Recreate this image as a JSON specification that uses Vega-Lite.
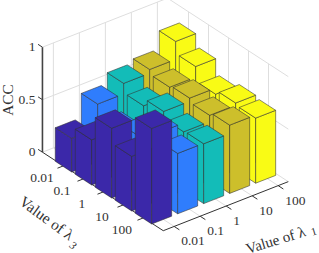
{
"$schema":"https://vega.github.io/schema/vega-lite/v6.json",
"width":319,"height":253,"padding":0,"autosize":"none","background":"white",
"config":{"view":{"stroke":null}},
"datasets":{
"bars":[
{"l1":"100","l3":"0.01","acc":0.855},{"l1":"100","l3":"0.1","acc":0.74},{"l1":"100","l3":"1","acc":0.60},{"l1":"100","l3":"10","acc":0.64},{"l1":"100","l3":"100","acc":0.62},
{"l1":"10","l3":"0.01","acc":0.685},{"l1":"10","l3":"0.1","acc":0.64},{"l1":"10","l3":"1","acc":0.66},{"l1":"10","l3":"10","acc":0.62},{"l1":"10","l3":"100","acc":0.65},
{"l1":"1","l3":"0.01","acc":0.65},{"l1":"1","l3":"0.1","acc":0.56},{"l1":"1","l3":"1","acc":0.63},{"l1":"1","l3":"10","acc":0.56},{"l1":"1","l3":"100","acc":0.57},
{"l1":"0.1","l3":"0.01","acc":0.55},{"l1":"0.1","l3":"0.1","acc":0.425},{"l1":"0.1","l3":"1","acc":0.5},{"l1":"0.1","l3":"10","acc":0.645},{"l1":"0.1","l3":"100","acc":0.575},
{"l1":"0.01","l3":"0.01","acc":0.32},{"l1":"0.01","l3":"0.1","acc":0.43},{"l1":"0.01","l3":"1","acc":0.664},{"l1":"0.01","l3":"10","acc":0.52},{"l1":"0.01","l3":"100","acc":0.91}
],
"grid":[
{"a0":0.45,"b0":-1.5,"z0":0,"a1":0.45,"b1":-1.5,"z1":1},{"a0":1.45,"b0":-1.5,"z0":0,"a1":1.45,"b1":-1.5,"z1":1},{"a0":2.45,"b0":-1.5,"z0":0,"a1":2.45,"b1":-1.5,"z1":1},{"a0":3.45,"b0":-1.5,"z0":0,"a1":3.45,"b1":-1.5,"z1":1},{"a0":4.45,"b0":-1.5,"z0":0,"a1":4.45,"b1":-1.5,"z1":1},
{"a0":4.84,"b0":-0.45,"z0":0,"a1":4.84,"b1":-0.45,"z1":1},{"a0":4.84,"b0":0.55,"z0":0,"a1":4.84,"b1":0.55,"z1":1},{"a0":4.84,"b0":1.55,"z0":0,"a1":4.84,"b1":1.55,"z1":1},{"a0":4.84,"b0":2.55,"z0":0,"a1":4.84,"b1":2.55,"z1":1},{"a0":4.84,"b0":3.55,"z0":0,"a1":4.84,"b1":3.55,"z1":1},
{"a0":0.03,"b0":-1.5,"z0":0,"a1":4.84,"b1":-1.5,"z1":0},{"a0":0.03,"b0":-1.5,"z0":0.5,"a1":4.84,"b1":-1.5,"z1":0.5},{"a0":0.03,"b0":-1.5,"z0":1,"a1":4.84,"b1":-1.5,"z1":1},
{"a0":4.84,"b0":-1.5,"z0":0,"a1":4.84,"b1":4.54,"z1":0},{"a0":4.84,"b0":-1.5,"z0":0.5,"a1":4.84,"b1":4.54,"z1":0.5},{"a0":4.84,"b0":-1.5,"z0":1,"a1":4.84,"b1":4.54,"z1":1},
{"a0":0.45,"b0":-1.5,"z0":0,"a1":0.45,"b1":4.54,"z1":0},{"a0":1.45,"b0":-1.5,"z0":0,"a1":1.45,"b1":4.54,"z1":0},{"a0":2.45,"b0":-1.5,"z0":0,"a1":2.45,"b1":4.54,"z1":0},{"a0":3.45,"b0":-1.5,"z0":0,"a1":3.45,"b1":4.54,"z1":0},{"a0":4.45,"b0":-1.5,"z0":0,"a1":4.45,"b1":4.54,"z1":0},
{"a0":0.03,"b0":-0.45,"z0":0,"a1":4.84,"b1":-0.45,"z1":0},{"a0":0.03,"b0":0.55,"z0":0,"a1":4.84,"b1":0.55,"z1":0},{"a0":0.03,"b0":1.55,"z0":0,"a1":4.84,"b1":1.55,"z1":0},{"a0":0.03,"b0":2.55,"z0":0,"a1":4.84,"b1":2.55,"z1":0},{"a0":0.03,"b0":3.55,"z0":0,"a1":4.84,"b1":3.55,"z1":0}
],
"zaxis":[
{"a0":0.03,"b0":-1.5,"z0":0,"a1":0.03,"b1":-1.5,"z1":1}
],
"axes":[
{"a0":0.03,"b0":-1.5,"z0":0,"a1":0.03,"b1":4.54,"z1":0},
{"a0":0.03,"b0":4.54,"z0":0,"a1":4.84,"b1":4.54,"z1":0},
{"a0":0.03,"b0":-1.5,"z0":0.5,"a1":0.03,"b1":-1.72,"z1":0.5},{"a0":0.03,"b0":-1.5,"z0":1,"a1":0.03,"b1":-1.72,"z1":1},{"a0":0.03,"b0":-1.5,"z0":0,"a1":0.03,"b1":-1.72,"z1":0},
{"a0":0.03,"b0":-0.45,"z0":0,"a1":-0.2,"b1":-0.45,"z1":0},{"a0":0.03,"b0":0.55,"z0":0,"a1":-0.2,"b1":0.55,"z1":0},{"a0":0.03,"b0":1.55,"z0":0,"a1":-0.2,"b1":1.55,"z1":0},{"a0":0.03,"b0":2.55,"z0":0,"a1":-0.2,"b1":2.55,"z1":0},{"a0":0.03,"b0":3.55,"z0":0,"a1":-0.2,"b1":3.55,"z1":0},
{"a0":0.45,"b0":4.54,"z0":0,"a1":0.45,"b1":4.8,"z1":0},{"a0":1.45,"b0":4.54,"z0":0,"a1":1.45,"b1":4.8,"z1":0},{"a0":2.45,"b0":4.54,"z0":0,"a1":2.45,"b1":4.8,"z1":0},{"a0":3.45,"b0":4.54,"z0":0,"a1":3.45,"b1":4.8,"z1":0},{"a0":4.45,"b0":4.54,"z0":0,"a1":4.45,"b1":4.8,"z1":0}
],
"labels":[
{"k":"z","t":"0","a":0.03,"b":-1.5,"z":0},{"k":"z","t":"0.5","a":0.03,"b":-1.5,"z":0.5},{"k":"z","t":"1","a":0.03,"b":-1.5,"z":1},
{"k":"l3","t":"0.01","a":0.03,"b":-0.45,"z":0},{"k":"l3","t":"0.1","a":0.03,"b":0.55,"z":0},{"k":"l3","t":"1","a":0.03,"b":1.55,"z":0},{"k":"l3","t":"10","a":0.03,"b":2.55,"z":0},{"k":"l3","t":"100","a":0.03,"b":3.55,"z":0},
{"k":"l1","t":"0.01","a":0.45,"b":4.54,"z":0},{"k":"l1","t":"0.1","a":1.45,"b":4.54,"z":0},{"k":"l1","t":"1","a":2.45,"b":4.54,"z":0},{"k":"l1","t":"10","a":3.45,"b":4.54,"z":0},{"k":"l1","t":"100","a":4.45,"b":4.54,"z":0},
{"k":"acc","t":"ACC","a":1.13,"b":-4.65,"z":0},
{"k":"t3","t":"Value of λ","a":-2.31,"b":1.75,"z":0},{"k":"s3","t":"3","a":-2.706,"b":3.57,"z":0},
{"k":"t1","t":"Value of λ","a":2.375,"b":7.108,"z":0},{"k":"s1","t":"1","a":3.6,"b":7.44,"z":0}
]
},
"layer":[
{"data":{"name":"grid"},
"transform":[
{"calculate":"26*datum.a0+20*datum.b0","as":"x0"},{"calculate":"26*datum.a1+20*datum.b1","as":"x1"},
{"calculate":"10.2*datum.a0-13*datum.b0+105*datum.z0","as":"y0"},{"calculate":"10.2*datum.a1-13*datum.b1+105*datum.z1","as":"y1"}],
"mark":{"type":"rule","color":"#dedede","strokeWidth":1},
"encoding":{
"x":{"field":"x0","type":"quantitative","scale":{"domain":[-71.67,247.33],"nice":false,"zero":false},"axis":null},
"y":{"field":"y0","type":"quantitative","scale":{"domain":[-81,172],"nice":false,"zero":false},"axis":null},
"x2":{"field":"x1"},"y2":{"field":"y1"}}},
{"data":{"name":"axes"},
"transform":[
{"calculate":"26*datum.a0+20*datum.b0","as":"x0"},{"calculate":"26*datum.a1+20*datum.b1","as":"x1"},
{"calculate":"10.2*datum.a0-13*datum.b0+105*datum.z0","as":"y0"},{"calculate":"10.2*datum.a1-13*datum.b1+105*datum.z1","as":"y1"}],
"mark":{"type":"rule","color":"#333333","strokeWidth":1},
"encoding":{
"x":{"field":"x0","type":"quantitative","scale":{"domain":[-71.67,247.33],"nice":false,"zero":false},"axis":null},
"y":{"field":"y0","type":"quantitative","scale":{"domain":[-81,172],"nice":false,"zero":false},"axis":null},
"x2":{"field":"x1"},"y2":{"field":"y1"}}},
{"data":{"name":"zaxis"},
"transform":[
{"calculate":"26*datum.a0+20*datum.b0","as":"x0"},{"calculate":"26*datum.a1+20*datum.b1","as":"x1"},
{"calculate":"10.2*datum.a0-13*datum.b0+105*datum.z0","as":"y0"},{"calculate":"10.2*datum.a1-13*datum.b1+105*datum.z1","as":"y1"}],
"mark":{"type":"rule","color":"#444444","strokeWidth":1.6},
"encoding":{
"x":{"field":"x0","type":"quantitative","scale":{"domain":[-71.67,247.33],"nice":false,"zero":false},"axis":null},
"y":{"field":"y0","type":"quantitative","scale":{"domain":[-81,172],"nice":false,"zero":false},"axis":null},
"x2":{"field":"x1"},"y2":{"field":"y1"}}},
{"data":{"name":"bars"},
"transform":[
{"calculate":"indexof(['0.01','0.1','1','10','100'],datum.l1)","as":"i"},
{"calculate":"indexof(['0.01','0.1','1','10','100'],datum.l3)","as":"j"},
{"calculate":"[{f:0,dx:-16.4,l:10.66,h:10.66,lz:0,hz:1},{f:0,dx:0,l:0,h:0,lz:0,hz:1},{f:1,dx:0,l:0,h:0,lz:0,hz:1},{f:1,dx:20,l:7.8,h:7.8,lz:0,hz:1},{f:2,dx:-16.4,l:10.66,h:10.66,lz:1,hz:1},{f:2,dx:0,l:0,h:17.06,lz:1,hz:1},{f:2,dx:3.6,l:1.404,h:18.46,lz:1,hz:1},{f:2,dx:20,l:7.8,h:7.8,lz:1,hz:1}]","as":"pts"},
{"flatten":["pts"]},
{"calculate":"26*datum.i+20*datum.j+datum.pts.dx","as":"sx"},
{"calculate":"10.2*datum.i-13*datum.j+datum.pts.l+datum.pts.lz*105*datum.acc","as":"lo"},
{"calculate":"10.2*datum.i-13*datum.j+datum.pts.h+datum.pts.hz*105*datum.acc","as":"hi"},
{"calculate":"datum.l1+'|'+datum.l3+'|'+datum.pts.f","as":"g"}],
"mark":{"type":"area","orient":"vertical","stroke":"#333333","strokeWidth":0.7,"strokeOpacity":0.8,"opacity":1},
"encoding":{
"x":{"field":"sx","type":"quantitative","scale":{"domain":[-71.67,247.33],"nice":false,"zero":false},"axis":null},
"y":{"field":"lo","type":"quantitative","stack":null,"scale":{"domain":[-81,172],"nice":false,"zero":false},"axis":null},
"y2":{"field":"hi"},
"detail":{"field":"g"},
"color":{"field":"l1","type":"nominal","legend":null,"scale":{"domain":["0.01","0.1","1","10","100"],"range":["#3b28a9","#2f7dfd","#13bcb8","#cdbf2b","#f9fb15"]}}}},
{"data":{"name":"labels"},
"transform":[{"filter":"datum.k=='z'"},{"calculate":"26*datum.a+20*datum.b","as":"px"},{"calculate":"10.2*datum.a-13*datum.b+105*datum.z","as":"py"}],
"mark":{"type":"text","font":"Liberation Serif","fontSize":13.5,"color":"#333333","align":"right","baseline":"middle","dx":-7},
"encoding":{"x":{"field":"px","type":"quantitative","scale":{"domain":[-71.67,247.33],"nice":false,"zero":false},"axis":null},"y":{"field":"py","type":"quantitative","scale":{"domain":[-81,172],"nice":false,"zero":false},"axis":null},"text":{"field":"t"}}},
{"data":{"name":"labels"},
"transform":[{"filter":"datum.k=='l3'"},{"calculate":"26*datum.a+20*datum.b","as":"px"},{"calculate":"10.2*datum.a-13*datum.b+105*datum.z","as":"py"}],
"mark":{"type":"text","font":"Liberation Serif","fontSize":13.5,"color":"#333333","align":"center","baseline":"middle","dx":-21.5,"dy":12.5},
"encoding":{"x":{"field":"px","type":"quantitative","scale":{"domain":[-71.67,247.33],"nice":false,"zero":false},"axis":null},"y":{"field":"py","type":"quantitative","scale":{"domain":[-81,172],"nice":false,"zero":false},"axis":null},"text":{"field":"t"}}},
{"data":{"name":"labels"},
"transform":[{"filter":"datum.k=='l1'"},{"calculate":"26*datum.a+20*datum.b","as":"px"},{"calculate":"10.2*datum.a-13*datum.b+105*datum.z","as":"py"}],
"mark":{"type":"text","font":"Liberation Serif","fontSize":13.5,"color":"#333333","align":"left","baseline":"middle","dx":7,"dy":15},
"encoding":{"x":{"field":"px","type":"quantitative","scale":{"domain":[-71.67,247.33],"nice":false,"zero":false},"axis":null},"y":{"field":"py","type":"quantitative","scale":{"domain":[-81,172],"nice":false,"zero":false},"axis":null},"text":{"field":"t"}}},
{"data":{"name":"labels"},
"transform":[{"filter":"datum.k=='acc'"},{"calculate":"26*datum.a+20*datum.b","as":"px"},{"calculate":"10.2*datum.a-13*datum.b+105*datum.z","as":"py"}],
"mark":{"type":"text","font":"Liberation Serif","fontSize":15.4,"color":"#333333","align":"center","baseline":"middle","angle":270},
"encoding":{"x":{"field":"px","type":"quantitative","scale":{"domain":[-71.67,247.33],"nice":false,"zero":false},"axis":null},"y":{"field":"py","type":"quantitative","scale":{"domain":[-81,172],"nice":false,"zero":false},"axis":null},"text":{"field":"t"}}},
{"data":{"name":"labels"},
"transform":[{"filter":"datum.k=='t3'"},{"calculate":"26*datum.a+20*datum.b","as":"px"},{"calculate":"10.2*datum.a-13*datum.b+105*datum.z","as":"py"}],
"mark":{"type":"text","font":"Liberation Serif","fontSize":15.4,"color":"#333333","align":"center","baseline":"middle","angle":36},
"encoding":{"x":{"field":"px","type":"quantitative","scale":{"domain":[-71.67,247.33],"nice":false,"zero":false},"axis":null},"y":{"field":"py","type":"quantitative","scale":{"domain":[-81,172],"nice":false,"zero":false},"axis":null},"text":{"field":"t"}}},
{"data":{"name":"labels"},
"transform":[{"filter":"datum.k=='s3'"},{"calculate":"26*datum.a+20*datum.b","as":"px"},{"calculate":"10.2*datum.a-13*datum.b+105*datum.z","as":"py"}],
"mark":{"type":"text","font":"Liberation Serif","fontSize":11,"fontStyle":"italic","color":"#333333","align":"center","baseline":"middle","angle":36},
"encoding":{"x":{"field":"px","type":"quantitative","scale":{"domain":[-71.67,247.33],"nice":false,"zero":false},"axis":null},"y":{"field":"py","type":"quantitative","scale":{"domain":[-81,172],"nice":false,"zero":false},"axis":null},"text":{"field":"t"}}},
{"data":{"name":"labels"},
"transform":[{"filter":"datum.k=='t1'"},{"calculate":"26*datum.a+20*datum.b","as":"px"},{"calculate":"10.2*datum.a-13*datum.b+105*datum.z","as":"py"}],
"mark":{"type":"text","font":"Liberation Serif","fontSize":15,"color":"#333333","align":"center","baseline":"middle","angle":-17},
"encoding":{"x":{"field":"px","type":"quantitative","scale":{"domain":[-71.67,247.33],"nice":false,"zero":false},"axis":null},"y":{"field":"py","type":"quantitative","scale":{"domain":[-81,172],"nice":false,"zero":false},"axis":null},"text":{"field":"t"}}},
{"data":{"name":"labels"},
"transform":[{"filter":"datum.k=='s1'"},{"calculate":"26*datum.a+20*datum.b","as":"px"},{"calculate":"10.2*datum.a-13*datum.b+105*datum.z","as":"py"}],
"mark":{"type":"text","font":"Liberation Serif","fontSize":11,"color":"#333333","align":"center","baseline":"middle","angle":-17},
"encoding":{"x":{"field":"px","type":"quantitative","scale":{"domain":[-71.67,247.33],"nice":false,"zero":false},"axis":null},"y":{"field":"py","type":"quantitative","scale":{"domain":[-81,172],"nice":false,"zero":false},"axis":null},"text":{"field":"t"}}}
]
}
